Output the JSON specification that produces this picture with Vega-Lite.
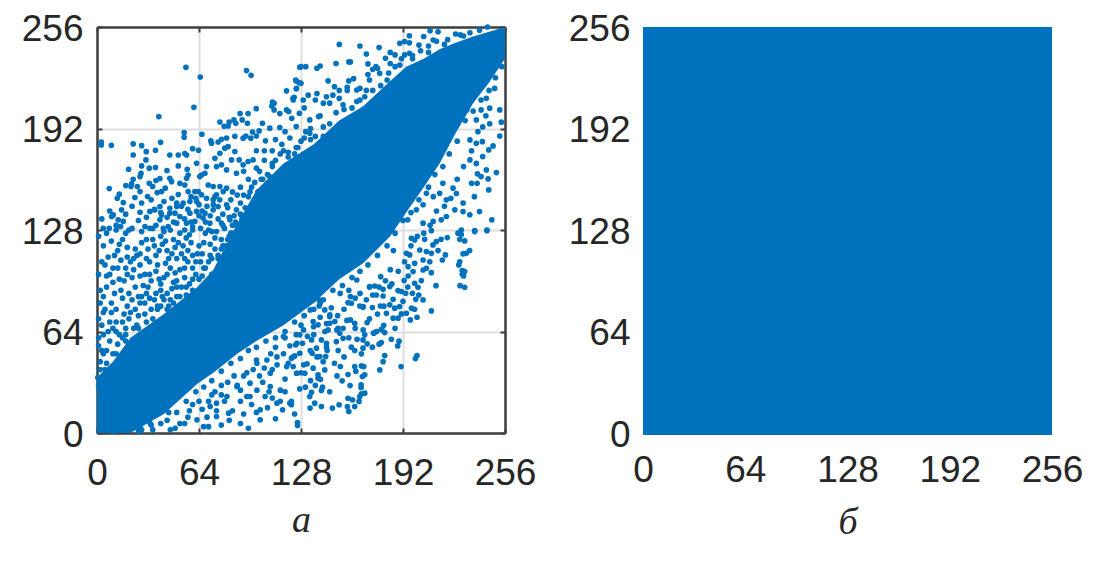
{"$schema":"https://vega.github.io/schema/vega-lite/v6.json","background":"white","padding":{"left":21,"top":10,"right":0,"bottom":0},"bounds":"flush","spacing":138,
"config":{"view":{"stroke":null},"axis":{"labelFont":"Liberation Sans","labelFontSize":37,"labelColor":"#262626","labelOverlap":false,"labelBound":false,"labelFlush":false,"gridColor":"#dedede","gridWidth":2,"domainColor":"#404040","domainWidth":2.5,"tickColor":"#404040","tickWidth":2,"tickSize":-5,"titleFont":"Liberation Serif","titleFontStyle":"italic","titleFontWeight":"normal","titleFontSize":38,"titleColor":"#262626"}},
"datasets":{
"band":[{"x":0,"lo":0,"hi":35},{"x":10,"lo":0,"hi":45},{"x":21,"lo":0,"hi":60},{"x":42,"lo":12,"hi":75},{"x":63,"lo":31,"hi":92},{"x":73,"lo":38,"hi":103},{"x":88,"lo":50,"hi":132},{"x":100,"lo":58,"hi":153},{"x":117,"lo":68,"hi":170},{"x":136,"lo":82,"hi":182},{"x":152,"lo":97,"hi":197},{"x":167,"lo":107,"hi":206},{"x":184,"lo":124,"hi":222},{"x":194,"lo":139,"hi":231},{"x":205,"lo":155,"hi":236},{"x":215,"lo":170,"hi":242},{"x":225,"lo":189,"hi":246},{"x":236,"lo":208,"hi":250},{"x":246,"lo":221,"hi":253},{"x":256,"lo":236,"hi":256}],
"square":[{"x":0,"x2":256,"y":-1.2,"y2":256}],
"pts":[{"x":55.8,"y":230.6},{"x":64.8,"y":224.5},{"x":93.8,"y":228.5},{"x":96.7,"y":225.5},{"x":60.8,"y":205.4},{"x":38.8,"y":199.5},{"x":2.7,"y":183.5},{"x":2.7,"y":181.6},{"x":9,"y":181.4},{"x":22.7,"y":182.3},{"x":28,"y":181.2},{"x":22.7,"y":175.3},{"x":30.9,"y":177.4},{"x":30.7,"y":172.2},{"x":36.7,"y":178.3},{"x":39.9,"y":183.3},{"x":45.7,"y":175.3},{"x":51,"y":175.3},{"x":55.1,"y":176.2},{"x":56.2,"y":175.3},{"x":60,"y":179.3},{"x":63.7,"y":178.3},{"x":54.7,"y":189.4},{"x":54.7,"y":186.5},{"x":65.8,"y":188.4},{"x":71.4,"y":184.2},{"x":71.9,"y":182.7},{"x":76,"y":183.5},{"x":78.1,"y":185.2},{"x":81.3,"y":186},{"x":86.5,"y":187.1},{"x":91.7,"y":185.9},{"x":93.4,"y":187.3},{"x":97.6,"y":189.8},{"x":101.7,"y":190.5},{"x":100,"y":187.3},{"x":96.5,"y":185.9},{"x":105.7,"y":184.2},{"x":108.4,"y":192.2},{"x":114.7,"y":192.6},{"x":77.1,"y":196.1},{"x":79.8,"y":193.4},{"x":82.3,"y":193.6},{"x":82.9,"y":196.1},{"x":85.9,"y":197.4},{"x":87.1,"y":195.3},{"x":91.1,"y":197.4},{"x":89.8,"y":201.4},{"x":94.8,"y":201.4},{"x":94.4,"y":195.3},{"x":99.9,"y":204.5},{"x":103.8,"y":195.3},{"x":110.1,"y":208.7},{"x":111.1,"y":207.9},{"x":109.7,"y":206.2},{"x":111.1,"y":203.7},{"x":114.7,"y":201.4},{"x":118.9,"y":215.7},{"x":118.9,"y":203.7},{"x":120.3,"y":202.7},{"x":123.1,"y":210},{"x":124.7,"y":222.6},{"x":125.2,"y":217.4},{"x":126.8,"y":220.9},{"x":123.7,"y":211.7},{"x":122.2,"y":198.4},{"x":127.2,"y":230.6},
{"x":19.8,"y":166.3},{"x":28,"y":168.4},{"x":27.6,"y":163.8},{"x":27,"y":161.7},{"x":32.8,"y":167},{"x":36.7,"y":167.4},{"x":43.9,"y":165.5},{"x":51,"y":168.4},{"x":56.6,"y":166.3},{"x":46.8,"y":158.5},{"x":45.7,"y":160.6},{"x":39.5,"y":160.4},{"x":37,"y":159.2},{"x":32.8,"y":157.5},{"x":34.9,"y":155.4},{"x":22.7,"y":160},{"x":21.7,"y":157.1},{"x":18.1,"y":156},{"x":21.3,"y":155.4},{"x":25.3,"y":155.4},{"x":27,"y":152.2},{"x":7.7,"y":154.1},{"x":14,"y":150.6},{"x":12.7,"y":148},{"x":16.5,"y":145.3},{"x":23.8,"y":148.5},{"x":31.7,"y":149.1},{"x":37.8,"y":151.6},{"x":40.5,"y":152.2},{"x":42.8,"y":154.4},{"x":51,"y":150.4},{"x":52,"y":157.5},{"x":56.2,"y":160.6},{"x":57.2,"y":162.7},{"x":55.1,"y":156.4},{"x":57.2,"y":152.2},{"x":61.4,"y":152.2},{"x":63.5,"y":152.2},{"x":64.5,"y":161.7},{"x":65.6,"y":162.7},{"x":67.7,"y":163.8},{"x":68.7,"y":168},{"x":62.5,"y":170.1},{"x":74,"y":173.2},{"x":77.1,"y":176.4},{"x":80.2,"y":179.6},{"x":82.3,"y":180.6},{"x":86.5,"y":177.5},{"x":84.4,"y":172.2},{"x":78.1,"y":169.1},{"x":75,"y":168},{"x":81.3,"y":165.9},{"x":87.5,"y":163.8},{"x":89.2,"y":172.2},{"x":91.7,"y":169.1},{"x":94.8,"y":171.2},{"x":98,"y":172.2},{"x":100,"y":167},{"x":69.8,"y":156.4},{"x":72.9,"y":155.4},{"x":77.1,"y":155.4},{"x":81.3,"y":154.4},{"x":79.2,"y":152.2},{"x":75,"y":150.2},{"x":72.9,"y":147},{"x":68.7,"y":148},{"x":65.6,"y":150.2},{"x":62.5,"y":146},{"x":58.3,"y":146},{"x":54.1,"y":144.9},{"x":50,"y":142.8},{"x":45.7,"y":141.7},{"x":39.5,"y":142.8},{"x":36.3,"y":140.7},{"x":33.2,"y":139.7},{"x":27,"y":139.2},{"x":15.4,"y":140.7},{"x":10.2,"y":137.5},{"x":9.2,"y":136.5},{"x":13.3,"y":134.4},{"x":16.5,"y":133.4},{"x":14.8,"y":130.2},{"x":3.9,"y":129.1},{"x":7.7,"y":129.1},{"x":30.1,"y":130.2},{"x":33.2,"y":129.1},{"x":39.5,"y":134.4},{"x":40.5,"y":137.5},{"x":45.7,"y":138.6},{"x":48.9,"y":138.6},{"x":52,"y":136.5},{"x":58.3,"y":138.6},{"x":62.5,"y":139.7},{"x":67.7,"y":138.6},{"x":72.9,"y":140.7},{"x":76,"y":142.8},{"x":81.3,"y":143.9},{"x":87.5,"y":140.7},{"x":83.4,"y":134.4},{"x":78.1,"y":132.3},{"x":70.8,"y":132.3},{"x":66.6,"y":135.5},{"x":61.4,"y":133.4},{"x":56.2,"y":132.3},{"x":50,"y":132.3},{"x":44.7,"y":130.2},{"x":41.6,"y":129.1},
{"x":244.7,"y":127.6},{"x":237,"y":127},{"x":227.6,"y":126.3},{"x":228.6,"y":125.1},{"x":230.7,"y":121.1},{"x":227.6,"y":122.1},{"x":219.8,"y":123.2},{"x":215.9,"y":122.1},{"x":212.9,"y":120.7},{"x":210.8,"y":118.6},{"x":214,"y":115},{"x":218.6,"y":112.3},{"x":216.7,"y":109.1},{"x":233.8,"y":115},{"x":231.7,"y":113.3},{"x":229.7,"y":112.9},{"x":227.6,"y":108},{"x":227,"y":106},{"x":229.2,"y":102.4},{"x":230.7,"y":101.8},{"x":230,"y":99},{"x":229.2,"y":100.1},{"x":227.8,"y":92.9},{"x":230.7,"y":91.9},{"x":212.7,"y":92.9},{"x":209.8,"y":101.1},{"x":206.7,"y":103.9},{"x":204.6,"y":102.8},{"x":208.8,"y":108},{"x":204.6,"y":109.1},{"x":202.5,"y":115.4},{"x":206.7,"y":114.4},{"x":209.8,"y":113.3},{"x":199.3,"y":121.7},{"x":197.3,"y":122.8},{"x":205.6,"y":122.1},{"x":209.8,"y":127.6},{"x":194.1,"y":113.3},{"x":196.2,"y":112.3},{"x":199.3,"y":107},{"x":195.2,"y":104.9},{"x":198.3,"y":101.8},{"x":192.7,"y":96.1},{"x":195.2,"y":99},{"x":199.3,"y":94.4},{"x":203.5,"y":96.1},{"x":201.4,"y":91.9},{"x":197.9,"y":88.1},{"x":201.9,"y":87},{"x":204.6,"y":83.9},{"x":200,"y":84.3},{"x":193.7,"y":88.1},{"x":188.9,"y":89.8},{"x":191,"y":89.2},{"x":183.7,"y":92.3},{"x":179.5,"y":90.6},{"x":174.3,"y":92.7},{"x":171.1,"y":92.3},{"x":175.3,"y":87},{"x":179.5,"y":86.4},{"x":185.8,"y":84.3},{"x":183.7,"y":80.8},{"x":189.9,"y":79.7},{"x":186.8,"y":78.7},{"x":181.6,"y":75.5},{"x":185.8,"y":72.4},{"x":188.9,"y":72.4},{"x":191,"y":75.1},{"x":194.1,"y":75.5},{"x":197.3,"y":78.7},{"x":199.3,"y":78},{"x":200.8,"y":73},{"x":196.6,"y":71.3},{"x":209.8,"y":77},{"x":177.8,"y":80.1},{"x":172.8,"y":79.1},{"x":166.9,"y":79.3},{"x":164.9,"y":80.1},{"x":159.6,"y":81.8},{"x":157.5,"y":82.2},{"x":169.5,"y":69.6},{"x":161.7,"y":69.2},{"x":159,"y":71.3},{"x":154.4,"y":66},{"x":151.3,"y":66},{"x":152.3,"y":62.9},{"x":154.4,"y":59.7},{"x":150.2,"y":57.6},{"x":151.3,"y":52},{"x":163.2,"y":59.1},{"x":166.9,"y":58.7},{"x":168,"y":61.9},{"x":173.6,"y":62.9},{"x":175.3,"y":63.9},{"x":178.4,"y":65.4},{"x":179.9,"y":67.9},{"x":180.5,"y":63.3},{"x":184.7,"y":59.1},{"x":189.5,"y":57.9},{"x":188.7,"y":54.9},{"x":178.4,"y":57},{"x":177,"y":56},{"x":172.8,"y":54.1},{"x":169.5,"y":56.2},{"x":166.9,"y":53.5},{"x":165.9,"y":49.9},{"x":161.7,"y":52},{"x":159.6,"y":54.1},{"x":180.5,"y":48.8},{"x":179.5,"y":45},{"x":177.4,"y":39.8},{"x":190.8,"y":41.9},{"x":200.8,"y":48.8},{"x":199.8,"y":46.9},{"x":168,"y":36.7},{"x":166.5,"y":35.6},{"x":165.9,"y":42.3},{"x":167.4,"y":41.9},{"x":161.7,"y":41.9},{"x":162.4,"y":39},{"x":157.5,"y":36.9},{"x":152.7,"y":41.9},{"x":150.6,"y":36},{"x":153.8,"y":32.9},{"x":158.8,"y":29.9},{"x":165.7,"y":30.4},{"x":165.7,"y":28.7},{"x":168,"y":25.1},{"x":165.9,"y":24.7},{"x":164.9,"y":23},{"x":164.4,"y":19.9},{"x":160.3,"y":20.9},{"x":157.5,"y":21.9},{"x":161.7,"y":16.7},{"x":157.1,"y":16.7},{"x":158,"y":13.6},{"x":151.9,"y":17.8},{"x":147.7,"y":15.7},{"x":140.8,"y":16.7},{"x":136.6,"y":18.8},{"x":133.7,"y":15.7},{"x":134.6,"y":25.7},{"x":133.5,"y":23},{"x":141.5,"y":28.9},{"x":140.8,"y":26.8},{"x":140.2,"y":33.9},{"x":138.7,"y":34.6},{"x":138.7,"y":36.7},{"x":142.9,"y":39.8},{"x":135.6,"y":40.9},{"x":131.8,"y":43.6},{"x":129.7,"y":43},{"x":130.4,"y":37.7},{"x":125.2,"y":37.7},{"x":127.2,"y":27.8},{"x":130.8,"y":28.9},{"x":122,"y":19.9},{"x":122,"y":17.8},{"x":125.8,"y":6.6},{"x":125.8,"y":4.7},{"x":116.4,"y":14.6},{"x":140.8,"y":58.7},{"x":144,"y":54.1},{"x":144.4,"y":52},{"x":137.7,"y":53.5},{"x":135,"y":50.3},{"x":139.8,"y":48.2},{"x":141.9,"y":45},{"x":143.5,"y":48.2},{"x":127.2,"y":50.3},{"x":124.1,"y":48.6},{"x":122,"y":47.2},{"x":123.1,"y":41.9},{"x":124.7,"y":55.6},{"x":128.9,"y":56.6},{"x":127.2,"y":61.9},{"x":134.6,"y":58.7},{"x":145,"y":65},{"x":146.1,"y":69.2},{"x":138.7,"y":68.2},{"x":135.6,"y":70.3},{"x":149.2,"y":70.3},{"x":146.1,"y":74.5},{"x":142.9,"y":77.6},{"x":139.4,"y":80.1},{"x":135.6,"y":83.9},{"x":139.4,"y":83.9},
{"x":49,"y":3},{"x":57,"y":10},{"x":70,"y":4},{"x":75,"y":14},{"x":83,"y":8},{"x":90,"y":20},{"x":95,"y":3},{"x":100,"y":13},{"x":108,"y":26},{"x":112,"y":9},{"x":115,"y":20},{"x":104,"y":32},{"x":96,"y":23},{"x":118,"y":34},{"x":110,"y":40},{"x":120,"y":44},{"x":88,"y":30},{"x":80,"y":20},{"x":66,"y":15},{"x":60,"y":18},{"x":55,"y":6},{"x":40,"y":6},{"x":45,"y":13},{"x":35,"y":2},{"x":72,"y":24},{"x":78,"y":30},{"x":92,"y":36},{"x":100,"y":46},{"x":112,"y":54},{"x":118,"y":60},{"x":26,"y":1},{"x":20,"y":2},{"x":10,"y":1},{"x":15,"y":3},{"x":5,"y":2},
{"x":2,"y":82},{"x":5,"y":78},{"x":9,"y":76},{"x":3,"y":68},{"x":12,"y":70},{"x":16,"y":85},{"x":20,"y":88},{"x":22,"y":98},{"x":18,"y":104},{"x":25,"y":112},{"x":28,"y":120},{"x":13,"y":115},{"x":16,"y":122},{"x":8,"y":100},{"x":6,"y":92},{"x":11,"y":88},{"x":30,"y":100},{"x":33,"y":108},{"x":36,"y":118},{"x":40,"y":124},{"x":44,"y":115},{"x":48,"y":122},{"x":38,"y":106},{"x":42,"y":98},{"x":46,"y":104},{"x":50,"y":110},{"x":54,"y":118},{"x":58,"y":125},{"x":28,"y":86},{"x":32,"y":92},{"x":36,"y":84},{"x":40,"y":90},{"x":24,"y":78},{"x":20,"y":72},{"x":14,"y":62},{"x":8,"y":58},{"x":4,"y":50},{"x":2,"y":40},{"x":6,"y":44},{"x":10,"y":50},{"x":18,"y":66},{"x":26,"y":74},{"x":34,"y":78},{"x":44,"y":88},{"x":50,"y":96},{"x":55,"y":104},{"x":60,"y":112},{"x":64,"y":118},{"x":68,"y":126},{"x":52,"y":86},{"x":58,"y":94},{"x":62,"y":100},{"x":70,"y":108},{"x":74,"y":116},{"x":78,"y":122},{"x":84,"y":126},{"x":66,"y":92},{"x":72,"y":100},{"x":80,"y":112},{"x":86,"y":118},{"x":92,"y":124},{"x":76,"y":104},{"x":70,"y":95},
{"x":130,"y":205},{"x":138,"y":214},{"x":134,"y":192},{"x":140,"y":200},{"x":146,"y":208},{"x":152,"y":216},{"x":158,"y":222},{"x":150,"y":233},{"x":176,"y":230},{"x":170,"y":226},{"x":184,"y":240},{"x":196,"y":246},{"x":205,"y":250},{"x":214,"y":253},{"x":190,"y":232},{"x":198,"y":236},{"x":208,"y":240},{"x":178,"y":206},{"x":126,"y":180},{"x":120,"y":174},{"x":110,"y":168},{"x":104,"y":160},{"x":116,"y":182},{"x":105,"y":172},
{"x":1,"y":124},{"x":6,"y":126},{"x":12,"y":128},{"x":18,"y":126},{"x":22,"y":129},{"x":28,"y":127},{"x":31,"y":122},{"x":35,"y":129},{"x":42,"y":127},{"x":46,"y":128},{"x":52,"y":126},{"x":56,"y":123},{"x":60,"y":128},{"x":65,"y":129},{"x":70,"y":128},{"x":75,"y":127},{"x":80,"y":129},{"x":85,"y":126},{"x":4,"y":118},{"x":9,"y":121},{"x":14,"y":119},{"x":19,"y":117},{"x":24,"y":116},{"x":27,"y":113},{"x":32,"y":116},{"x":37,"y":112},{"x":41,"y":119},{"x":45,"y":110},{"x":49,"y":117},{"x":53,"y":113},{"x":57,"y":115},{"x":62,"y":108},{"x":66,"y":113},{"x":71,"y":119},{"x":76,"y":112},{"x":81,"y":118},{"x":84,"y":110},{"x":88,"y":121},{"x":90,"y":114},{"x":94,"y":125},{"x":95,"y":133},{"x":97,"y":128},{"x":1,"y":100},{"x":5,"y":106},{"x":10,"y":95},{"x":13,"y":104},{"x":17,"y":96},{"x":21,"y":108},{"x":24,"y":92},{"x":27,"y":99},{"x":31,"y":88},{"x":34,"y":96},{"x":37,"y":102},{"x":40,"y":94},{"x":43,"y":107},{"x":47,"y":91},{"x":49,"y":101},{"x":53,"y":92},{"x":55,"y":98},{"x":57,"y":108},{"x":60,"y":90},{"x":64,"y":97},{"x":67,"y":104},{"x":69,"y":87},{"x":73,"y":94},{"x":75,"y":100},{"x":78,"y":109},{"x":82,"y":100},{"x":85,"y":104},{"x":87,"y":112},{"x":1,"y":72},{"x":4,"y":86},{"x":7,"y":64},{"x":9,"y":82},{"x":12,"y":78},{"x":15,"y":90},{"x":17,"y":75},{"x":19,"y":80},{"x":22,"y":84},{"x":25,"y":68},{"x":27,"y":82},{"x":30,"y":75},{"x":33,"y":85},{"x":35,"y":72},{"x":38,"y":80},{"x":41,"y":86},{"x":44,"y":78},{"x":46,"y":84},{"x":48,"y":82},{"x":50,"y":92},{"x":1,"y":55},{"x":4,"y":62},{"x":6,"y":52},{"x":10,"y":66},{"x":13,"y":56},{"x":16,"y":60},{"x":18,"y":58},{"x":23,"y":66},{"x":3,"y":135},{"x":8,"y":140},{"x":12,"y":131},{"x":18,"y":138},{"x":20,"y":128},{"x":22,"y":143},{"x":26,"y":134},{"x":28,"y":145},{"x":31,"y":136},{"x":34,"y":147},{"x":37,"y":131},{"x":42,"y":146},{"x":44,"y":136},{"x":47,"y":148},{"x":53,"y":143},{"x":55,"y":135},{"x":59,"y":149},{"x":60,"y":130},{"x":64,"y":144},{"x":69,"y":143},{"x":71,"y":137},{"x":74,"y":149},{"x":79,"y":138},{"x":84,"y":147},{"x":86,"y":137},{"x":88,"y":130},{"x":90,"y":145},{"x":93,"y":135},{"x":95,"y":149},{"x":98,"y":145},{"x":101,"y":152},{"x":103,"y":147},{"x":106,"y":155},{"x":90,"y":155},{"x":85,"y":152},{"x":95,"y":160},{"x":92,"y":165},{"x":102,"y":165},{"x":108,"y":162},{"x":112,"y":172},{"x":114,"y":160},{"x":117,"y":178},{"x":121,"y":186},{"x":124,"y":176},{"x":128,"y":184},{"x":131,"y":190},{"x":134,"y":185},{"x":110,"y":178},{"x":112,"y":185},{"x":118,"y":190},{"x":105,"y":178},{"x":100,"y":178},
{"x":152,"y":245},{"x":165,"y":244},{"x":169,"y":239},{"x":177,"y":243},{"x":158,"y":234},{"x":159,"y":234},{"x":128,"y":231},{"x":131,"y":231},{"x":138,"y":230},{"x":140,"y":231.4},{"x":125,"y":222},{"x":128,"y":220.5},{"x":125,"y":217},{"x":145,"y":222},{"x":149,"y":218.4},{"x":157,"y":218},{"x":157,"y":216},{"x":161,"y":223.4},{"x":165,"y":217.3},{"x":171,"y":222.6},{"x":170,"y":232.7},{"x":175,"y":231},{"x":173,"y":229.3},{"x":181,"y":236.3},{"x":184,"y":233},{"x":187,"y":238.4},{"x":190,"y":245.7},{"x":193,"y":246.8},{"x":196,"y":250.5},{"x":202,"y":244.6},{"x":209,"y":253.7},{"x":211,"y":247.8},{"x":218,"y":245},{"x":225,"y":251.6},{"x":230,"y":250.3},{"x":234,"y":252.4},{"x":196,"y":239.4},{"x":193,"y":238.4},{"x":177.4,"y":226.8},{"x":182,"y":222.6},{"x":163,"y":216.3},{"x":152,"y":211},{"x":148,"y":213},{"x":144,"y":212},{"x":132.5,"y":213},{"x":129.4,"y":210},{"x":123,"y":211},{"x":137,"y":210},{"x":142,"y":208},{"x":154.4,"y":207},{"x":165,"y":210},{"x":169,"y":216},{"x":127,"y":201.6},{"x":133.5,"y":197.4},{"x":139,"y":199.5},{"x":142,"y":193},{"x":133.5,"y":189},{"x":125,"y":193.2},
{"x":252.7,"y":203.7},{"x":253.7,"y":196},{"x":252.7,"y":187.3},{"x":246.4,"y":204.8},{"x":249.5,"y":217.3},{"x":250.6,"y":164.2},{"x":245.8,"y":153.3},{"x":247.7,"y":134.4},{"x":244.7,"y":128},{"x":236.8,"y":149},{"x":238.5,"y":157.5},{"x":235,"y":157.5},{"x":245.4,"y":160.2},{"x":241,"y":161.7},{"x":238.7,"y":163.4},{"x":244.3,"y":165.9},{"x":238,"y":170},{"x":242,"y":174.3},{"x":234,"y":172.2},{"x":248.5,"y":181},{"x":245.8,"y":178.5},{"x":241.8,"y":183.7},{"x":238,"y":182.7},{"x":234,"y":184.8},{"x":246.4,"y":195},{"x":242,"y":193},{"x":238,"y":197.4},{"x":232,"y":203.7},{"x":244.3,"y":211},{"x":241,"y":203.7},{"x":225.5,"y":151},{"x":229.7,"y":145},{"x":224.5,"y":140.7},{"x":219.2,"y":136.5},{"x":210.9,"y":133.4},{"x":216,"y":134.4},{"x":204.6,"y":132.3},{"x":195,"y":134.4},{"x":229.7,"y":139.6},{"x":233.9,"y":137.6},{"x":240,"y":139.6},{"x":215,"y":151.2},{"x":219.2,"y":147},{"x":211,"y":149},{"x":206.7,"y":151.2},{"x":217,"y":157.5},{"x":204.6,"y":143.9},{"x":200.4,"y":140.7},{"x":223.4,"y":154.4},{"x":228.6,"y":128},{"x":237,"y":127.7},{"x":226.5,"y":126},
{"x":171,"y":92},{"x":178,"y":98.6},{"x":184,"y":103},{"x":186,"y":115},{"x":163,"y":96.5},{"x":159,"y":86},{"x":152.6,"y":88},{"x":167,"y":79.7},{"x":146,"y":73.4},{"x":140,"y":81.8},{"x":133.8,"y":77.6},{"x":129.6,"y":65},{"x":125.4,"y":56.6},{"x":117,"y":60.8},{"x":112.9,"y":48},{"x":106.6,"y":46},{"x":100.3,"y":44},{"x":96,"y":31.4},{"x":108.7,"y":37.7},{"x":119,"y":41.9},{"x":125.4,"y":37.7},{"x":87.8,"y":29.3},{"x":81.5,"y":23},{"x":75,"y":18.8},{"x":71,"y":16.7},{"x":62.7,"y":8.3},{"x":66.9,"y":4},{"x":90,"y":6},{"x":102.4,"y":8.3},{"x":102.4,"y":14.6},{"x":94,"y":23},{"x":105.5,"y":23},{"x":115,"y":27},{"x":121,"y":18.8},{"x":112.9,"y":18.8},{"x":100.3,"y":27},{"x":108.7,"y":29.3},{"x":82.6,"y":12.5},{"x":75,"y":10.4},{"x":52,"y":6},{"x":46,"y":2},{"x":33.4,"y":6},{"x":27,"y":4},{"x":123,"y":48},{"x":133.8,"y":52},{"x":138,"y":48},{"x":144,"y":56.6},{"x":135.9,"y":67},{"x":150.5,"y":65},{"x":156.8,"y":71},{"x":144,"y":69},{"x":167,"y":65},{"x":178.7,"y":65},{"x":173.5,"y":63},{"x":1,"y":30},{"x":2,"y":45},{"x":1,"y":60},{"x":3,"y":52},{"x":0.5,"y":35},
{"x":5,"y":40},{"x":12,"y":50},{"x":18,"y":62},{"x":26,"y":66},{"x":31,"y":70},{"x":38,"y":78},{"x":45,"y":80},{"x":50,"y":86},{"x":56,"y":92},{"x":60,"y":97},{"x":66,"y":99},{"x":68,"y":104},{"x":72,"y":110},{"x":76,"y":110},{"x":79,"y":118},{"x":83,"y":124},{"x":85,"y":131},{"x":90,"y":138},{"x":93,"y":142},{"x":96,"y":152},{"x":99,"y":158},{"x":103,"y":160},{"x":107,"y":163},{"x":110,"y":170},{"x":115,"y":176},{"x":120,"y":177},{"x":125,"y":180},{"x":130,"y":186},{"x":137,"y":187},{"x":142,"y":187},{"x":146,"y":195},{"x":150,"y":202},{"x":155,"y":204},{"x":160,"y":205},{"x":163,"y":209},{"x":168,"y":212},{"x":173,"y":216},{"x":178,"y":219},{"x":183,"y":227},{"x":187,"y":231},{"x":191,"y":236},{"x":198,"y":238},{"x":203,"y":241},{"x":208,"y":244},{"x":213,"y":247},{"x":220,"y":248},{"x":228,"y":251},{"x":240,"y":254},{"x":245,"y":256},
{"x":28,"y":2},{"x":34,"y":5},{"x":44,"y":8},{"x":50,"y":13},{"x":56,"y":20},{"x":62,"y":26},{"x":67,"y":29},{"x":72,"y":33},{"x":78,"y":39},{"x":84,"y":44},{"x":90,"y":47},{"x":95,"y":52},{"x":100,"y":54},{"x":106,"y":58},{"x":112,"y":60},{"x":118,"y":64},{"x":124,"y":70},{"x":130,"y":74},{"x":136,"y":78},{"x":142,"y":84},{"x":148,"y":90},{"x":154,"y":93},{"x":160,"y":98},{"x":165,"y":102},{"x":170,"y":106},{"x":176,"y":112},{"x":182,"y":118},{"x":187,"y":126},{"x":192,"y":134},{"x":197,"y":139},{"x":202,"y":147},{"x":208,"y":155},{"x":212,"y":163},{"x":217,"y":168},{"x":221,"y":176},{"x":226,"y":184},{"x":231,"y":197},{"x":236,"y":203},{"x":241,"y":210},{"x":246,"y":216},{"x":250,"y":224},{"x":254,"y":231},
{"x":55,"y":110},{"x":59,"y":120},{"x":63,"y":113},{"x":67,"y":120},{"x":71,"y":112},{"x":74,"y":123},{"x":78,"y":116},{"x":82,"y":122},{"x":85,"y":115},{"x":89,"y":128},{"x":91,"y":135},{"x":93,"y":128},{"x":87,"y":133},{"x":83,"y":136},{"x":79,"y":131},{"x":76,"y":135},{"x":72,"y":127},{"x":68,"y":133},{"x":64,"y":137},{"x":59,"y":133},{"x":55,"y":128},{"x":51,"y":120},{"x":47,"y":113},{"x":43,"y":121},{"x":39,"y":115},{"x":35,"y":122},{"x":31,"y":110},{"x":27,"y":106},{"x":23,"y":110},{"x":19,"y":111},{"x":15,"y":109},{"x":11,"y":112},{"x":7,"y":111},{"x":3,"y":108},{"x":6,"y":99},{"x":10,"y":104},{"x":14,"y":97},{"x":19,"y":100},{"x":23,"y":103},{"x":29,"y":93},{"x":33,"y":100},{"x":39,"y":97},{"x":44,"y":100},{"x":48,"y":95},{"x":52,"y":103},{"x":56,"y":87},{"x":60,"y":104},{"x":65,"y":108},{"x":40,"y":80},{"x":42,"y":84},{"x":37,"y":88},{"x":30,"y":82},{"x":26,"y":86},{"x":21,"y":76},{"x":16,"y":70},{"x":12,"y":64},{"x":8,"y":70},{"x":4,"y":76},{"x":2,"y":90},{"x":36,"y":141},{"x":40,"y":139},{"x":48,"y":133},{"x":50,"y":145},{"x":57,"y":141},{"x":62,"y":148},{"x":66,"y":140},{"x":73,"y":144},{"x":77,"y":147},{"x":82,"y":142},{"x":88,"y":150},{"x":92,"y":150},{"x":97,"y":155},{"x":100,"y":148},
{"x":70,"y":20},{"x":74,"y":26},{"x":78,"y":24},{"x":82,"y":32},{"x":86,"y":36},{"x":90,"y":27},{"x":94,"y":38},{"x":98,"y":40},{"x":102,"y":36},{"x":105,"y":41},{"x":109,"y":50},{"x":113,"y":43},{"x":117,"y":50},{"x":121,"y":55},{"x":125,"y":62},{"x":128,"y":68},{"x":132,"y":61},{"x":136,"y":62},{"x":140,"y":73},{"x":143,"y":64},{"x":147,"y":79},{"x":151,"y":74},{"x":155,"y":78},{"x":158,"y":90},{"x":162,"y":85},{"x":165,"y":88},{"x":169,"y":84},{"x":173,"y":87},{"x":177,"y":92},{"x":181,"y":96},{"x":185,"y":94},{"x":189,"y":102},{"x":193,"y":108},{"x":197,"y":118},{"x":201,"y":124},{"x":205,"y":126},{"x":209,"y":131},{"x":213,"y":140},{"x":218,"y":143},{"x":222,"y":148},{"x":226,"y":160},{"x":230,"y":168},{"x":235,"y":178},{"x":239,"y":190},{"x":244,"y":200},{"x":58,"y":14},{"x":64,"y":20},{"x":69,"y":10},{"x":78,"y":5},{"x":85,"y":14},{"x":92,"y":12},{"x":97,"y":18},{"x":107,"y":16},{"x":110,"y":22},{"x":118,"y":26},{"x":124,"y":12},{"x":128,"y":38},{"x":134,"y":33},{"x":137,"y":30},{"x":146,"y":26},{"x":149,"y":44},{"x":155,"y":48},{"x":158,"y":60},{"x":162,"y":66},{"x":171,"y":72},{"x":176,"y":75},{"x":180,"y":80},{"x":187,"y":66},{"x":192,"y":83},{"x":195,"y":92}]
},
"hconcat":[
{"width":408,"height":406,"layer":[
{"data":{"name":"band"},"mark":{"type":"area","color":"#0072BD"},"encoding":{"x":{"field":"x","type":"quantitative","scale":{"domain":[0,256],"nice":false},"axis":{"values":[0,64,128,192,256],"grid":true,"title":"а","titlePadding":10,"labelPadding":27,"zindex":0}},"y":{"field":"lo","type":"quantitative","scale":{"domain":[0,256],"nice":false},"axis":{"values":[0,64,128,192,256],"grid":true,"title":null,"labelPadding":19,"labelOffset":2,"zindex":0}},"y2":{"field":"hi"}}},
{"data":{"name":"pts"},"mark":{"type":"circle","color":"#0072BD","size":32,"opacity":1},"encoding":{"x":{"field":"x","type":"quantitative","scale":{"domain":[0,256],"nice":false},"axis":null},"y":{"field":"y","type":"quantitative","scale":{"domain":[0,256],"nice":false},"axis":null}}},
{"data":{"name":"square"},"mark":{"type":"rect","fillOpacity":0,"strokeOpacity":0},"encoding":{"x":{"field":"x","type":"quantitative","scale":{"domain":[0,256],"nice":false},"axis":{"orient":"top","values":[0,64,128,192,256],"labels":false,"title":null,"grid":false}},"y":{"field":"y","type":"quantitative","scale":{"domain":[0,256],"nice":false},"axis":{"orient":"right","values":[0,64,128,192,256],"labels":false,"title":null,"grid":false}}}}
],"resolve":{"axis":{"x":"independent","y":"independent"}}},
{"width":409,"height":406,"data":{"name":"square"},"mark":{"type":"rect","color":"#0072BD","clip":false},"encoding":{"x":{"field":"x","type":"quantitative","scale":{"domain":[0,256],"nice":false},"axis":{"values":[0,64,128,192,256],"title":"б","titlePadding":15,"labelPadding":19,"domain":false,"ticks":false,"grid":false}},"x2":{"field":"x2"},"y":{"field":"y","type":"quantitative","scale":{"domain":[0,256],"nice":false},"axis":{"values":[0,64,128,192,256],"title":null,"labelPadding":13,"labelOffset":2,"domain":false,"ticks":false,"grid":false}},"y2":{"field":"y2"}}}
]}
